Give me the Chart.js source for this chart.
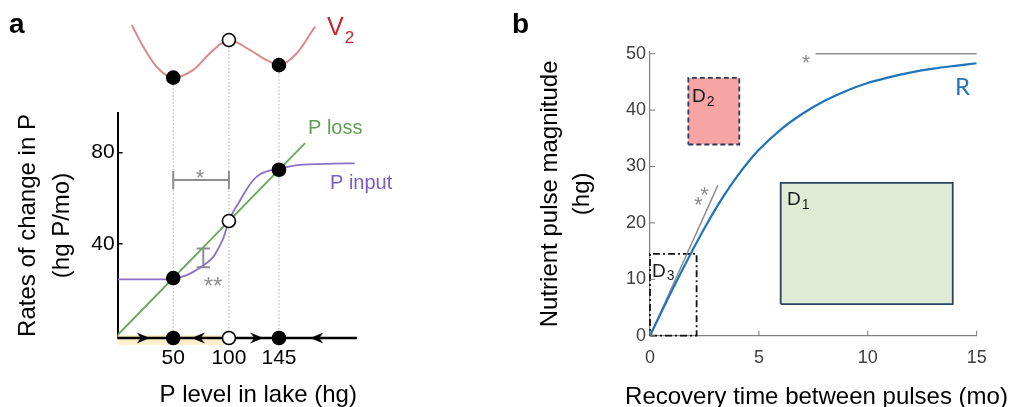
<!DOCTYPE html>
<html><head><meta charset="utf-8">
<script src="https://cdn.jsdelivr.net/npm/chart.js@4.4.1/dist/chart.umd.min.js"></script>
<style>
html,body{margin:0;padding:0;background:#fff;}
#wrap{position:relative;width:1013px;height:407px;overflow:hidden;background:#fff;}
canvas{position:absolute;top:0;}
#ca,#cv{left:0;} #cb{left:500px;}
</style></head><body>
<div id="wrap"><canvas id="ca" width="500" height="407"></canvas><canvas id="cv" width="500" height="407"></canvas><canvas id="cb" width="513" height="407"></canvas></div>
<script>
// ================= Panel a data =================
const pLossLevel = [0, 168.4];
const pLossRate = [0, 84.2];
const pInputLevel = [0, 45, 50, 55, 62, 68, 74, 80, 86, 90, 95, 100, 105, 110, 116, 122, 128, 134, 145, 155, 164, 180, 195, 213];
const pInputRate = [24.4, 24.4, 24.6, 25.2, 26.3, 27.7, 29.5, 31.6, 34.3, 37.5, 42.5, 50, 55, 59, 64, 68, 70.5, 71.8, 73, 74, 74.6, 75, 75.2, 75.3];
const v2Level = [12.7, 23, 35, 50, 68, 83, 100, 119, 134, 145, 161, 177.4];
const v2Potential = [136, 126.5, 117.7, 112.9, 116.3, 123.6, 129.4, 125, 120.6, 118.4, 123.6, 135.3];
const eqLevels = [50, 100, 145];
const eqRates = [25, 50, 72.5];
const eqPotential = [112.9, 129.4, 118.4];
const eqStable = [true, false, true];
const flowArrowLevels = [23, 72.5, 125, 179];
const flowArrowDirs = [1, -1, 1, -1];
const basinLevels = [0, 97];
const starBracket = [50, 100, 68];      // from level, to level, rate
const dstarBracket = [77, 29.7, 38];    // level, from rate, to rate
const aXTicks = [50, 100, 145];
const aYTicks = [40, 80];
const aXRange = [0, 215];
const aYRange = [-1.3, 97.4];

// ================= Panel b data =================
const recoveryTime = [0, 0.5, 1, 1.5, 2, 2.5, 3, 3.5, 4, 4.5, 5, 6, 7, 8, 9, 10, 11, 12, 13, 14, 15];
const pulseMagnitude = [0, 4.0, 7.95, 11.8, 15.5, 19.05, 22.4, 25.45, 28.25, 30.75, 32.95, 36.55, 39.35, 41.6, 43.4, 44.8, 45.85, 46.7, 47.35, 47.85, 48.3];
const slopeTime = [0, 3.12];
const slopeMagnitude = [0, 26.7];
const limitTime = [7.6, 15];
const limitMagnitude = [50, 50];
const boxD1 = [6.0, 13.9, 5.6, 27.1];   // t from, t to, magnitude from, magnitude to
const boxD2 = [1.76, 4.1, 33.9, 45.7];
const boxD3 = [0, 2.14, 0, 14.5];
const bXTicks = [0, 5, 10, 15];
const bYTicks = [0, 10, 20, 30, 40, 50];
const bXRange = [0, 15];
const bYRange = [0, 50.3];

// ================= helpers =================
const FONT = '"Liberation Sans", Arial, sans-serif';
Chart.defaults.font.family = FONT;
const pts = (xs, ys) => xs.map((x, i) => ({x, y: ys[i]}));
const rect = b => [{x:b[0],y:b[2]},{x:b[1],y:b[2]},{x:b[1],y:b[3]},{x:b[0],y:b[3]},{x:b[0],y:b[2]}];

function arrowCanvas() {
  const c = document.createElement('canvas'); c.width = 13; c.height = 12;
  const g = c.getContext('2d'); g.fillStyle = '#000';
  g.beginPath(); g.moveTo(13, 6); g.lineTo(0, 0.5); g.lineTo(4, 6); g.lineTo(0, 11.5); g.closePath(); g.fill();
  return c;
}

const inwardTicks = {
  id: 'inwardTicks',
  afterDatasetsDraw(chart, args, opts) {
    const ctx = chart.ctx, ca = chart.chartArea;
    (opts.axes || []).forEach(a => {
      const s = chart.scales[a.id];
      ctx.save(); ctx.strokeStyle = a.color; ctx.lineWidth = a.width;
      ctx.beginPath();
      s.ticks.forEach(t => {
        const p = s.getPixelForValue(t.value);
        if (s.isHorizontal()) { ctx.moveTo(p, ca.bottom); ctx.lineTo(p, ca.bottom - a.len); }
        else { ctx.moveTo(ca.left, p); ctx.lineTo(ca.left + a.len, p); }
      });
      ctx.stroke(); ctx.restore();
    });
  }
};

const textLabels = {
  id: 'textLabels',
  afterDatasetsDraw(chart, args, opts) {
    const ctx = chart.ctx;
    (opts.items || []).forEach(it => {
      ctx.save();
      ctx.fillStyle = it.color; ctx.font = it.font;
      ctx.textAlign = it.align || 'left'; ctx.textBaseline = 'alphabetic';
      ctx.fillText(it.text, it.x, it.y);
      if (it.sub) {
        const w = ctx.measureText(it.text).width;
        ctx.font = it.subFont; ctx.textAlign = 'left';
        ctx.fillText(it.sub, it.x + w + (it.subDx || 0), it.y + (it.subDy || 0));
      }
      ctx.restore();
    });
  }
};

const fixTicks = vals => (scale) => { scale.ticks = vals.map(v => ({value: v})); };

// ================= Panel a chart =================
const GREEN = '#66a85c', PURPLE = '#8b72c6', V2C = '#d9898a', GRAY = '#8e8e8e';
const dotted = [];
eqLevels.forEach((x, i) => { dotted.push({x, y: eqPotential[i]}, {x, y: aYRange[0]}, {x, y: null}); });
const bracketA = [
  {x: starBracket[0], y: starBracket[2]}, {x: starBracket[1], y: starBracket[2]}, {x: starBracket[1], y: null},
  {x: starBracket[0], y: starBracket[2] - 4}, {x: starBracket[0], y: starBracket[2] + 4}, {x: starBracket[0], y: null},
  {x: starBracket[1], y: starBracket[2] - 4}, {x: starBracket[1], y: starBracket[2] + 4}, {x: starBracket[1], y: null},
  {x: dstarBracket[0], y: dstarBracket[1]}, {x: dstarBracket[0], y: dstarBracket[2]}, {x: dstarBracket[0], y: null},
  {x: dstarBracket[0] - 6, y: dstarBracket[1]}, {x: dstarBracket[0] + 6, y: dstarBracket[1]}, {x: dstarBracket[0], y: null},
  {x: dstarBracket[0] - 6, y: dstarBracket[2]}, {x: dstarBracket[0] + 6, y: dstarBracket[2]}
];
const markerStyle = {
  showLine: false, pointRadius: 6.5, pointBorderWidth: 1.6, pointBorderColor: '#000',
  pointBackgroundColor: eqStable.map(s => s ? '#000' : '#fff'), clip: false, order: 0
};
const arrowImg = arrowCanvas();

// geometry of panel a plot box (pixels in its canvas)
const A_LEFT = 117.6, A_RIGHT = 356.9, A_TOP = 113, A_BOTTOM = 338, V_TOP = 12;

new Chart(document.getElementById('ca'), {
  type: 'line',
  data: { datasets: [
    Object.assign({label: 'eq-rate', data: pts(eqLevels, eqRates)}, markerStyle),
    Object.assign({label: 'eq-axis', data: eqLevels.map(x => ({x, y: aYRange[0]}))}, markerStyle),
    {label: 'flow', data: flowArrowLevels.map(x => ({x, y: aYRange[0]})), showLine: false,
     pointStyle: arrowImg, pointRotation: flowArrowDirs.map(d => d > 0 ? 0 : 180), pointRadius: 6, clip: false, order: 1},
    {label: 'P input', data: pts(pInputLevel, pInputRate), borderColor: PURPLE, borderWidth: 1.8, pointRadius: 0,
     cubicInterpolationMode: 'monotone', order: 5},
    {label: 'P loss', data: pts(pLossLevel, pLossRate), borderColor: GREEN, borderWidth: 1.8, pointRadius: 0, order: 4},
    {label: 'brackets', data: bracketA, borderColor: GRAY, borderWidth: 2, pointRadius: 0, spanGaps: false, order: 7},
    {label: 'x-axis', data: pts(aXRange, [aYRange[0], aYRange[0]]), borderColor: '#000', borderWidth: 2.5, pointRadius: 0, clip: false, order: 8},
    {label: 'dotted', data: dotted, borderColor: '#b4b4b4', borderWidth: 1.1, borderDash: [1.5, 2], pointRadius: 0, spanGaps: false, clip: false, order: 9},
    {label: 'basin', data: pts(basinLevels, [aYRange[0] - 0.9, aYRange[0] - 0.9]), borderColor: '#fcefcd', borderWidth: 10,
     borderCapStyle: 'butt', pointRadius: 0, clip: false, order: 10}
  ]},
  options: {
    responsive: false, animation: false, devicePixelRatio: 1,
    layout: { padding: {left: 0, right: 500 - A_RIGHT, top: A_TOP, bottom: 0} },
    plugins: {
      legend: {display: false}, tooltip: {enabled: false},
      inwardTicks: {axes: [{id: 'y', len: 5, color: '#000', width: 1.5}]},
      textLabels: {items: [
        {text: 'a', x: 9, y: 33, font: 'bold 28px ' + FONT, color: '#000'},
        {text: 'V', sub: '2', x: 327, y: 35, font: '25px ' + FONT, subFont: '17px ' + FONT, subDx: 1, subDy: 8, color: '#c3282e'},
        {text: 'P loss', x: 308, y: 134, font: '20px ' + FONT, color: '#5f9e52'},
        {text: 'P input', x: 330, y: 188.5, font: '20px ' + FONT, color: '#7a5cbf'},
        {text: '*', x: 200, y: 185, align: 'center', font: '22px ' + FONT, color: GRAY},
        {text: '**', x: 213, y: 294, align: 'center', font: '24px ' + FONT, color: GRAY}
      ]}
    },
    scales: {
      x: {
        type: 'linear', min: aXRange[0], max: aXRange[1],
        afterBuildTicks: fixTicks(aXTicks),
        afterFit: s => { s.height = 407 - A_BOTTOM; },
        grid: {display: false, drawTicks: false, tickLength: 0},
        border: {display: false},
        ticks: {color: '#000', font: {size: 21}, padding: 8, maxRotation: 0, autoSkip: false},
        title: {display: true, text: 'P level in lake (hg)', align: 'end', color: '#000',
                font: {size: 24, lineHeight: 1}, padding: {top: 0, bottom: 0}}
      },
      y: {
        type: 'linear', min: aYRange[0], max: aYRange[1],
        afterBuildTicks: fixTicks(aYTicks),
        afterFit: s => { s.width = A_LEFT; },
        grid: {display: false, drawTicks: false, tickLength: 0},
        border: {display: true, color: '#000', width: 2},
        ticks: {color: '#000', font: {size: 21}, padding: 3},
        title: {display: true, text: ['Rates of change in P', '(hg P/mo)'], color: '#000',
                font: {size: 24, lineHeight: 1.42}, padding: {top: 11, bottom: 0}}
      }
    }
  },
  plugins: [inwardTicks, textLabels]
});

// overlay: potential V2 above the rate plot, sharing the same P-level scale
const vMax = aYRange[0] + (A_BOTTOM - V_TOP) * (aYRange[1] - aYRange[0]) / (A_BOTTOM - A_TOP);
new Chart(document.getElementById('cv'), {
  type: 'line',
  data: { datasets: [
    Object.assign({label: 'eq-potential', data: pts(eqLevels, eqPotential)}, markerStyle),
    {label: 'V2', data: pts(v2Level, v2Potential), borderColor: V2C, borderWidth: 2, pointRadius: 0,
     cubicInterpolationMode: 'monotone', clip: false, order: 6}
  ]},
  options: {
    responsive: false, animation: false, devicePixelRatio: 1,
    layout: { padding: {left: A_LEFT, right: 500 - A_RIGHT, top: V_TOP, bottom: 407 - A_BOTTOM} },
    plugins: {legend: {display: false}, tooltip: {enabled: false}},
    scales: {
      x: {type: 'linear', display: false, min: aXRange[0], max: aXRange[1]},
      y: {type: 'linear', display: false, min: aYRange[0], max: vMax}
    }
  }
});

// ================= Panel b chart =================
const BLUE = '#1f74ba';
new Chart(document.getElementById('cb'), {
  type: 'line',
  data: { datasets: [
    {label: 'R', data: pts(recoveryTime, pulseMagnitude), borderColor: BLUE, borderWidth: 2.2, pointRadius: 0,
     cubicInterpolationMode: 'monotone', order: 1},
    {label: 'initial slope', data: pts(slopeTime, slopeMagnitude), borderColor: GRAY, borderWidth: 1.5, pointRadius: 0, order: 2},
    {label: 'limit', data: pts(limitTime, limitMagnitude), borderColor: GRAY, borderWidth: 1.5, pointRadius: 0, clip: false, order: 2},
    {label: 'D3', data: rect(boxD3), borderColor: '#111', borderWidth: 1.8, borderDash: [7, 3, 2, 3], pointRadius: 0,
     fill: false, clip: false, order: 5},
    {label: 'D2', data: rect(boxD2), borderColor: '#2f3a58', backgroundColor: '#f6a4a4', borderWidth: 1.8, borderDash: [5, 3],
     pointRadius: 0, fill: 'shape', clip: false, order: 6},
    {label: 'D1', data: rect(boxD1), borderColor: '#2c4463', backgroundColor: '#e0ebd6', borderWidth: 1.8,
     pointRadius: 0, fill: 'shape', clip: false, order: 7}
  ]},
  options: {
    responsive: false, animation: false, devicePixelRatio: 1,
    layout: { padding: {left: 0, right: 513 - 476.7, top: 52, bottom: 0} },
    plugins: {
      legend: {display: false}, tooltip: {enabled: false},
      inwardTicks: {axes: [{id: 'y', len: 5, color: '#777', width: 1}, {id: 'x', len: 5, color: '#777', width: 1}]},
      textLabels: {items: [
        {text: 'b', x: 12, y: 33, font: 'bold 28px ' + FONT, color: '#000'},
        {text: 'R', x: 455, y: 95, font: '24px Lato, ' + FONT, color: BLUE},
        {text: '*', x: 306, y: 70, align: 'center', font: '22px ' + FONT, color: GRAY},
        {text: '*', x: 198.3, y: 212.4, align: 'center', font: '22px ' + FONT, color: GRAY},
        {text: '*', x: 204.5, y: 201.6, align: 'center', font: '22px ' + FONT, color: GRAY},
        {text: 'D', sub: '2', x: 192, y: 102, font: '19px ' + FONT, subFont: '14px ' + FONT, subDx: 1, subDy: 4, color: '#1a1a1a'},
        {text: 'D', sub: '1', x: 287, y: 205, font: '19px ' + FONT, subFont: '14px ' + FONT, subDx: 1, subDy: 4, color: '#1a1a1a'},
        {text: 'D', sub: '3', x: 152, y: 277, font: '19px ' + FONT, subFont: '14px ' + FONT, subDx: 1, subDy: 3, color: '#1a1a1a'},
        {text: 'Recovery time between pulses (mo)', x: 316.5, y: 403.5, align: 'center', font: '24px ' + FONT, color: '#000'}
      ]}
    },
    scales: {
      x: {
        type: 'linear', min: bXRange[0], max: bXRange[1],
        afterBuildTicks: fixTicks(bXTicks),
        afterFit: s => { s.height = 407 - 335.7; },
        grid: {display: false, drawTicks: false, tickLength: 0},
        border: {display: true, color: '#808080', width: 1.2},
        ticks: {color: '#404040', font: {size: 18}, padding: 12, maxRotation: 0, autoSkip: false},
        title: {display: false}
      },
      y: {
        type: 'linear', min: bYRange[0], max: bYRange[1],
        afterBuildTicks: fixTicks(bYTicks),
        afterFit: s => { s.width = 150; },
        grid: {display: false, drawTicks: false, tickLength: 0},
        border: {display: true, color: '#808080', width: 1.2},
        ticks: {color: '#404040', font: {size: 18}, padding: 4},
        title: {display: true, text: ['Nutrient pulse magnitude', '(hg)'], color: '#000',
                font: {size: 24, lineHeight: 1.333}, padding: {top: 34, bottom: 0}}
      }
    }
  },
  plugins: [inwardTicks, textLabels]
});
</script>
</body></html>
